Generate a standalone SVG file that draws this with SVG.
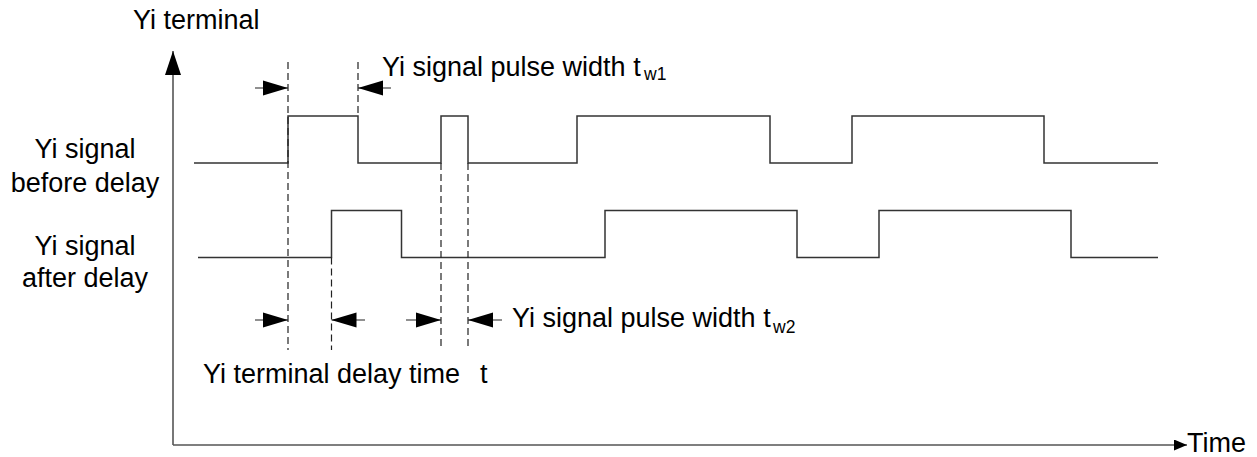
<svg xmlns="http://www.w3.org/2000/svg" width="1257" height="457" viewBox="0 0 1257 457">
<style>
text{font-family:"Liberation Sans",Arial,sans-serif;font-size:27px;fill:#000}
.sub{font-size:17.5px}
.sig{fill:none;stroke:#333;stroke-width:1.5}
.axis{fill:none;stroke:#555;stroke-width:1.6}
.dash{fill:none;stroke:#222;stroke-width:1.2;stroke-dasharray:7 4}
.dim{fill:none;stroke:#222;stroke-width:1.2}
</style>
<defs>
<marker id="dimArrow" markerUnits="userSpaceOnUse" markerWidth="25" markerHeight="16" refX="25" refY="8" orient="auto">
<path d="M0,0.5 L25,8 L0,15.5 z" fill="#000"/>
</marker>
<marker id="yArrow" markerUnits="userSpaceOnUse" markerWidth="24" markerHeight="16" refX="24" refY="8" orient="auto">
<path d="M0,0 L24,8 L0,16 z" fill="#000"/>
</marker>
<marker id="xArrow" markerUnits="userSpaceOnUse" markerWidth="13" markerHeight="11" refX="13" refY="5.5" orient="auto">
<path d="M0,0 L13,5.5 L0,11 z" fill="#000"/>
</marker>
</defs>

<g id="axes">
<path class="axis" d="M173,445 V51" marker-end="url(#yArrow)"/>
<path class="axis" d="M173,445 H1187" marker-end="url(#xArrow)"/>
<text x="133" y="29">Yi terminal</text>
<text x="1187" y="452">Time</text>
</g>

<g id="signal-before">
<path class="sig" d="M194,163 H288 V116 H358 V163 H441 V116 H468 V163 H577 V116 H770 V163 H852 V116 H1044 V163 H1158"/>
<text x="85" y="158" text-anchor="middle">Yi signal</text>
<text x="85" y="192" text-anchor="middle">before delay</text>
</g>

<g id="signal-after">
<path class="sig" d="M198,257.5 H331.5 V210.5 H401.5 V257.5 H605 V210.5 H797 V257.5 H879 V210.5 H1071 V257.5 H1158"/>
<text x="85" y="255" text-anchor="middle">Yi signal</text>
<text x="85" y="287" text-anchor="middle">after delay</text>
</g>

<g id="connectors">
<path class="dash" d="M288,62 V350"/>
<path class="dash" d="M358,62 V116"/>
<path class="dash" d="M331.5,257.5 V350"/>
<path class="dash" d="M441,163 V350"/>
<path class="dash" d="M468,163 V350"/>
<path class="dim" d="M255,88 H288" marker-end="url(#dimArrow)"/>
<path class="dim" d="M391,88 H358" marker-end="url(#dimArrow)"/>
<path class="dim" d="M255,320 H288" marker-end="url(#dimArrow)"/>
<path class="dim" d="M365,320 H331.5" marker-end="url(#dimArrow)"/>
<path class="dim" d="M406,320 H441" marker-end="url(#dimArrow)"/>
<path class="dim" d="M502,320 H468" marker-end="url(#dimArrow)"/>
</g>

<g id="label-tw1">
<text x="382" y="76">Yi signal pulse width t<tspan class="sub" x="644" y="80">w1</tspan></text>
</g>
<g id="label-tw2">
<text x="512" y="327">Yi signal pulse width t<tspan class="sub" x="773" y="333">w2</tspan></text>
</g>
<g id="label-delay">
<text x="203" y="383">Yi terminal delay time<tspan x="480">t</tspan></text>
</g>
</svg>
